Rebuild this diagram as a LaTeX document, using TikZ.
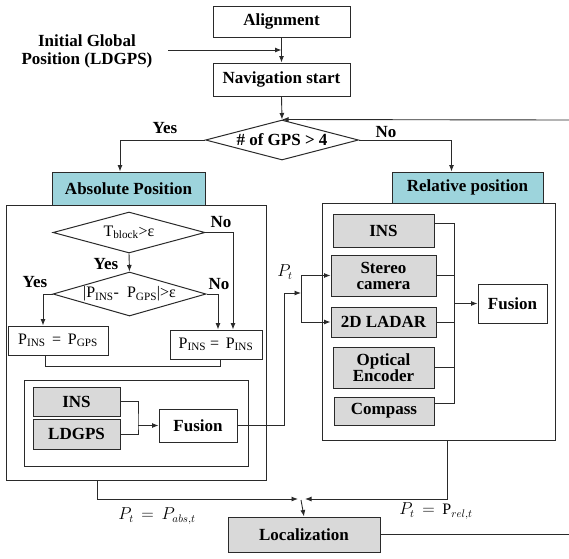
\documentclass[tikz,border=0pt]{standalone}
\usepackage{fontspec}
\setmainfont{Liberation Serif}
\usetikzlibrary{arrows.meta,shapes.geometric}
\definecolor{hdrblue}{HTML}{9DD4DC}
\definecolor{boxgray}{HTML}{D9D9D9}
\definecolor{ln}{HTML}{2A2A2A}
\begin{document}
\begin{tikzpicture}[x=1pt,y=-1pt,
  line/.style={draw=ln, line width=0.9pt},
  arr/.style={line, -{Latex[length=6.5pt,width=5pt]}},
  wbox/.style={draw=ln, line width=1pt, fill=white, inner sep=0pt, align=center,
     font=\bfseries\fontsize{17}{17}\selectfont},
  gbox/.style={wbox, fill=boxgray},
  bbox/.style={wbox, fill=hdrblue},
  frame/.style={draw=ln, line width=1pt, inner sep=0pt},
  dia/.style={diamond, draw=ln, line width=1pt, fill=white, inner sep=0pt, aspect=3.7,
     font=\fontsize{16}{17}\selectfont},
  lab/.style={inner sep=0pt, font=\bfseries\fontsize{17}{18}\selectfont, align=center},
  mlab/.style={inner sep=0pt, font=\fontsize{16}{17}\selectfont}
]
\useasboundingbox (0,0) rectangle (569,558);
% outer frames
\node[frame, minimum width=260pt, minimum height=275pt] (outerL) at (136,342.5) {};
\node[frame, minimum width=233pt, minimum height=237pt] (outerR) at (438.5,321.5) {};
\node[frame, minimum width=224pt, minimum height=86pt] (innerF) at (136,423) {};
% top
\node[wbox, minimum width=137pt, minimum height=31pt] (align) at (281.5,21.5) {Alignment};
\node[wbox, minimum width=137pt, minimum height=33pt] (nav) at (281.5,79.5) {Navigation start};
\node[lab] (init) at (87,51) {Initial Global\\Position (LDGPS)};
\coordinate (initS) at (168,50);
\coordinate (j1) at (281.5,50);
\node[dia, minimum width=153pt, minimum height=40pt, font=\bfseries\fontsize{17}{17}\selectfont] (gps) at (282,140) {\# of GPS {\textgreater} 4};
\coordinate (loopR) at (569,120);
\node[bbox, minimum width=153pt, minimum height=33pt] (abs) at (128.5,188.5) {Absolute Position};
\node[bbox, minimum width=151pt, minimum height=31pt] (rel) at (467.5,187.5) {Relative position};
\node[lab] (yes1) at (165,128) {Yes};
\node[lab] (no1) at (386,132) {No};
% absolute part
\node[dia, minimum width=152pt, minimum height=41pt] (tb) at (129,232.5) {T\textsubscript{block}>ε};
\node[dia, minimum width=153pt, minimum height=44pt] (d2) at (129.5,294) {|P\textsubscript{INS}-\ \ P\textsubscript{GPS}|>ε};
\node[lab] (no2) at (221,222) {No};
\node[lab] (yes2) at (106,264) {Yes};
\node[lab] (yes3) at (35,282) {Yes};
\node[lab] (no3) at (219,284) {No};
\node[wbox, font=\fontsize{16}{17}\selectfont, minimum width=100pt, minimum height=29pt] (pgps) at (58,340.5) {P\textsubscript{INS} \,=\, P\textsubscript{GPS}};
\node[wbox, font=\fontsize{16}{17}\selectfont, minimum width=92pt, minimum height=29pt] (pins) at (216,344.5) {P\textsubscript{INS} = \,P\textsubscript{INS}};
\coordinate (jn) at (130,366);
\node[gbox, minimum width=87pt, minimum height=29pt] (insA) at (76.5,401.5) {INS};
\node[gbox, minimum width=87pt, minimum height=30pt] (ldgps) at (76.5,434) {LDGPS};
\node[wbox, minimum width=78pt, minimum height=33pt] (fusA) at (198,425.5) {Fusion};
\coordinate (brM) at (138,425.5);
% relative part
\node[gbox, minimum width=101pt, minimum height=33pt] (insR) at (383.5,230.5) {INS};
\node[gbox, minimum width=105pt, minimum height=41pt, font=\bfseries\fontsize{17}{16}\selectfont] (stereo) at (383.5,275.5) {Stereo\\camera};
\node[gbox, minimum width=105pt, minimum height=30pt] (ladar) at (383.5,322) {2D LADAR};
\node[gbox, minimum width=101pt, minimum height=41pt, font=\bfseries\fontsize{17}{16}\selectfont] (optical) at (383.5,367.5) {Optical\\Encoder};
\node[gbox, minimum width=100pt, minimum height=28pt] (compass) at (384,411) {Compass};
\node[wbox, minimum width=69pt, minimum height=39pt] (fusR) at (512.5,303.5) {Fusion};
\coordinate (busT) at (454,223);
\coordinate (busB) at (454,403);
\coordinate (busM) at (454,303.5);
\coordinate (ptj) at (284,293);
\coordinate (ptb) at (301,293);
\node[mlab] (ptlab) at (285,272) {$P_t$};
% bottom
\node[gbox, minimum width=152pt, minimum height=35pt] (loc) at (304,534.5) {Localization};
\coordinate (mergeL) at (298,499);
\coordinate (mergeR) at (305,499);
\coordinate (merge) at (301,500);
\coordinate (locR) at (569,534.5);
\node[mlab] (eqabs) at (157,516) {$P_t\,=\,P_{abs,t}$};
\node[mlab] (eqrel) at (436,511) {$P_t\,=\,\mathrm{P}_{rel,t}$};
% connectors
\draw[arr] (align.south) -- (nav.north);
\draw[arr] (initS) -- (j1);
\draw[arr] (nav.south) -- (gps.north);
\draw[arr] (loopR) -- (gps.north);
\draw[arr] (gps.west) -| ([xshift=-8.5pt]abs.north);
\draw[arr] (gps.east) -| ([xshift=-16pt]rel.north);
\draw[arr] (tb.east) -| ([xshift=17pt]pins.north);
\draw[arr] (tb.south) -- (d2.north);
\draw[arr] (d2.west) -| ([xshift=-15pt]pgps.north);
\draw[arr] (d2.east) -| ([xshift=2pt]pins.north);
\draw[line] ([xshift=-13pt]pgps.south) |- (jn) -| ([xshift=4pt]pins.south);
\draw[line] (insA.east) -| (brM) |- (ldgps.east);
\draw[arr] (brM) -- (fusA.west);
\draw[line] (fusA.east) -| (ptj);
\draw[arr] (ptj) -- (ptb);
\draw[arr] (ptb) |- (stereo.west);
\draw[arr] (ptb) |- (ladar.west);
\draw[line] (insR.east |- busT) -- (busT) -- (busB) -- (compass.east |- busB);
\draw[line] (stereo.east) -- (stereo.east -| busT);
\draw[line] (ladar.east) -- (ladar.east -| busT);
\draw[line] (optical.east) -- (optical.east -| busT);
\draw[arr] (busM) -- (fusR.west);
\draw[arr] ([xshift=-39pt]outerL.south) |- (mergeL);
\draw[arr] ([xshift=8.5pt]outerR.south) |- (mergeR);
\draw[arr] (merge) -- (loc.north);
\draw[line] (loc.east) -- (locR);
\end{tikzpicture}
\end{document}
